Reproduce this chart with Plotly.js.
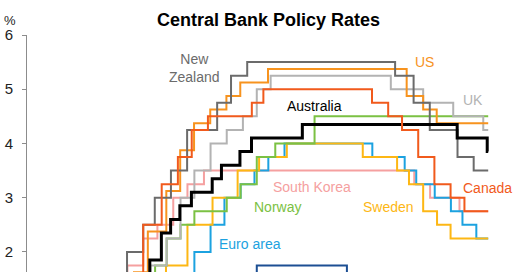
<!DOCTYPE html>
<html>
<head>
<meta charset="utf-8">
<script src="https://cdn.plot.ly/plotly-3.0.1.min.js"></script>
<style>
  html, body { margin: 0; padding: 0; background: #fff; }
  #chart { width: 520px; height: 272px; }
</style>
</head>
<body>
<div id="chart"></div>
<script>
// Policy rate decisions (announcement dates) and the rate set at each one, in %.
const nzDates = ['2021-07-26','2021-10-06','2021-11-24','2022-02-23','2022-04-13','2022-05-25','2022-07-13','2022-08-17','2022-10-05','2022-11-23','2023-02-22','2023-04-05','2023-05-24','2024-08-14','2024-10-09','2024-11-27','2025-02-19','2025-04-09','2025-05-23'];
const nzRates = [0.25,0.5,0.75,1.0,1.5,2.0,2.5,3.0,3.5,4.25,4.75,5.25,5.5,5.25,4.75,4.25,3.75,3.5,3.5];

const usDates = ['2021-07-26','2022-03-16','2022-05-04','2022-06-15','2022-07-27','2022-09-21','2022-11-02','2022-12-14','2023-02-01','2023-03-22','2023-05-03','2023-07-26','2024-09-18','2024-11-07','2024-12-18','2025-05-23'];
const usRates = [0.125,0.375,0.875,1.625,2.375,3.125,3.875,4.375,4.625,4.875,5.125,5.375,4.875,4.625,4.375,4.375];

const ukDates = ['2021-07-26','2021-12-16','2022-02-03','2022-03-17','2022-05-05','2022-06-16','2022-08-04','2022-09-22','2022-11-03','2022-12-15','2023-02-02','2023-03-23','2023-05-11','2023-06-22','2023-08-03','2024-08-01','2024-11-07','2025-02-06','2025-05-08','2025-05-23'];
const ukRates = [0.1,0.25,0.5,0.75,1.0,1.25,1.75,2.25,3.0,3.5,4.0,4.25,4.5,5.0,5.25,5.0,4.75,4.5,4.25,4.25];

const auDates = ['2021-07-26','2022-05-03','2022-06-07','2022-07-05','2022-08-02','2022-09-06','2022-10-04','2022-11-01','2022-12-06','2023-02-07','2023-03-07','2023-05-02','2023-06-06','2023-11-07','2025-02-18','2025-05-20','2025-05-23'];
const auRates = [0.1,0.35,0.85,1.35,1.85,2.35,2.6,2.85,3.1,3.35,3.6,3.85,4.1,4.35,4.1,3.85,3.85];

const caDates = ['2021-07-26','2022-03-02','2022-04-13','2022-06-01','2022-07-13','2022-09-07','2022-10-26','2022-12-07','2023-01-25','2023-06-07','2023-07-12','2024-06-05','2024-07-24','2024-09-04','2024-10-23','2024-12-11','2025-01-29','2025-03-12','2025-05-23'];
const caRates = [0.25,0.5,1.0,1.5,2.5,3.25,3.75,4.25,4.5,4.75,5.0,4.75,4.5,4.25,3.75,3.25,3.0,2.75,2.75];

const noDates = ['2021-07-26','2021-09-23','2021-12-16','2022-03-24','2022-06-23','2022-08-18','2022-09-22','2022-11-03','2022-12-15','2023-03-23','2023-05-04','2023-06-22','2023-08-17','2023-12-14','2025-05-23'];
const noRates = [0.0,0.25,0.5,0.75,1.25,1.75,2.25,2.5,2.75,3.0,3.25,3.75,4.0,4.5,4.5];

const seDates = ['2021-07-26','2022-04-28','2022-06-30','2022-09-20','2022-11-24','2023-02-08','2023-04-25','2023-06-29','2023-09-21','2024-05-08','2024-08-20','2024-09-25','2024-11-07','2024-12-19','2025-01-29','2025-05-23'];
const seRates = [0.0,0.25,0.75,1.75,2.5,3.0,3.5,3.75,4.0,3.75,3.5,3.25,2.75,2.5,2.25,2.25];

const euDates = ['2021-07-26','2022-07-21','2022-09-08','2022-10-27','2022-12-15','2023-02-02','2023-03-16','2023-05-04','2023-06-15','2023-07-27','2023-09-14','2024-06-06','2024-09-12','2024-10-17','2024-12-12','2025-01-30','2025-03-06','2025-04-17','2025-05-23'];
const euRates = [-0.5,0.0,0.75,1.5,2.0,2.5,3.0,3.25,3.5,3.75,4.0,3.75,3.5,3.25,3.0,2.75,2.5,2.25,2.25];

const krDates = ['2021-07-26','2021-08-26','2021-11-25','2022-01-14','2022-04-14','2022-05-26','2022-07-13','2022-08-25','2022-10-12','2022-11-24','2023-01-13','2024-10-11','2024-11-28','2025-02-25','2025-05-23'];
const krRates = [0.5,0.75,1.0,1.25,1.5,1.75,2.25,2.5,3.0,3.25,3.5,3.25,3.0,2.75,2.75];

const chDates = ['2021-07-26','2022-06-16','2022-09-22','2022-12-15','2023-03-23','2023-06-22','2024-03-21','2024-06-20','2024-09-26','2024-12-12','2025-03-20','2025-05-23'];
const chRates = [-0.75,-0.25,0.5,1.0,1.5,1.75,1.5,1.25,1.0,0.5,0.25,0.25];

const yTicks = [2, 3, 4, 5, 6];

// Plot frame in page pixels, used to place the series labels.
const L = 27, R = 510, T = 35, B = 272;
const px = x => (x - L) / (R - L);
const py = y => (B - y) / (B - T);

function stepLine(name, x, y, color, width) {
  return {
    type: 'scatter', mode: 'lines', name: name, x: x, y: y,
    line: { shape: 'hv', color: color, width: width || 2 },
    hoverinfo: 'skip'
  };
}

const traces = [
  stepLine('Switzerland', chDates, chRates, '#1c4f93'),
  stepLine('South Korea', krDates, krRates, '#f5a0a0'),
  stepLine('Euro area', euDates, euRates, '#1ca2e0'),
  stepLine('Sweden', seDates, seRates, '#fdb714'),
  stepLine('Norway', noDates, noRates, '#7bc143'),
  stepLine('UK', ukDates, ukRates, '#b3b3b3'),
  stepLine('US', usDates, usRates, '#f7931e'),
  stepLine('New Zealand', nzDates, nzRates, '#6b6b6b'),
  stepLine('Australia', auDates, auRates, '#000000', 3),
  stepLine('Canada', caDates, caRates, '#f15a1c')
];

function label(text, x, y, color) {
  return {
    text: text, xref: 'paper', yref: 'paper', x: px(x), y: py(y),
    xanchor: 'center', yanchor: 'middle', showarrow: false,
    font: { family: 'Liberation Sans, Arial, sans-serif', size: 14, color: color }
  };
}

const annotations = [
  label('New<br>Zealand', 194, 68, '#6b6b6b'),
  label('US', 424, 62, '#f7931e'),
  label('UK', 473, 100, '#b3b3b3'),
  label('Australia', 314, 106, '#000000'),
  label('South Korea', 312, 187, '#f5a0a0'),
  label('Norway', 277, 207, '#7bc143'),
  label('Sweden', 388, 207, '#fdb714'),
  label('Canada', 487, 188, '#f15a1c'),
  label('Euro area', 250, 244, '#1ca2e0'),
  {
    text: '%', xref: 'paper', yref: 'paper', x: px(10), y: py(20),
    xanchor: 'center', yanchor: 'middle', showarrow: false,
    font: { family: 'Liberation Sans, Arial, sans-serif', size: 13, color: '#222' }
  }
];

const layout = {
  width: 520, height: 272,
  margin: { l: L, r: 520 - R, t: T, b: 0, pad: 0 },
  paper_bgcolor: '#fff', plot_bgcolor: '#fff',
  showlegend: false,
  title: {
    text: '<b>Central Bank Policy Rates</b>',
    font: { family: 'Liberation Sans, Arial, sans-serif', size: 18, color: '#000' },
    x: 0.5, xref: 'paper', xanchor: 'center',
    y: 1 - 19.5 / 272, yref: 'container', yanchor: 'middle'
  },
  xaxis: {
    type: 'date', range: ['2021-07-26', '2025-07-28'],
    visible: false, fixedrange: true
  },
  yaxis: {
    range: [1.63, 6.0],
    tickvals: yTicks, ticktext: yTicks.map(String),
    showgrid: false, zeroline: false,
    showline: true, linecolor: '#8c8c8c', linewidth: 1,
    ticks: 'outside', ticklen: 4, tickcolor: '#8c8c8c', tickwidth: 1,
    ticklabelstandoff: 6,
    tickfont: { family: 'Liberation Sans, Arial, sans-serif', size: 15, color: '#222' },
    fixedrange: true
  },
  annotations: annotations
};

Plotly.newPlot('chart', traces, layout, { displayModeBar: false, staticPlot: true });
</script>
</body>
</html>
